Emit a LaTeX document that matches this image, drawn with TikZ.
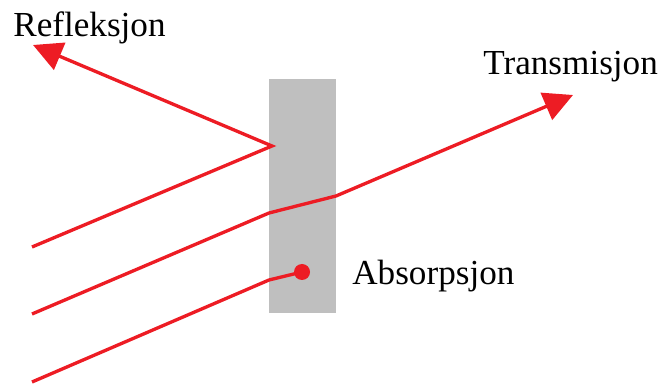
\documentclass[tikz,border=0pt]{standalone}
\usepackage{fontspec}
\setmainfont{Liberation Serif}
\usetikzlibrary{arrows.meta}
\definecolor{beam}{RGB}{237,28,36}
\definecolor{slab}{RGB}{191,191,191}
\tikzset{
  ray/.style={draw=beam, line width=1.9pt, line join=miter},
  rayarrow/.style={ray, -{Triangle[length=0.58cm, width=0.58cm]}},
  lbl/.style={font=\fontsize{20}{24}\selectfont, inner sep=0pt, anchor=base west},
}

\begin{document}
\begin{tikzpicture}
  \useasboundingbox (0,0) rectangle (13.26,7.74);
  \fill[slab] (5.38,1.48) rectangle (6.72,6.16);

  \coordinate (rin) at (0.64, 2.80);
  \coordinate (rhit) at (5.44, 4.82);
  \coordinate (rout) at (0.66, 6.84);
  \coordinate (tin) at (0.64, 1.46);
  \coordinate (ta) at (5.38, 3.48);
  \coordinate (tb) at (6.72, 3.82);
  \coordinate (tout) at (11.46, 5.84);
  \coordinate (ain) at (0.64, 0.10);
  \coordinate (aa) at (5.38, 2.14);
  \node[circle, fill=beam, inner sep=0pt, minimum size=0.32cm] (dot) at (6.04, 2.30) {};

  \node[lbl] (refl) at (0.26, 7.00) {Refleksjon};
  \node[lbl] (trans) at (9.66, 6.24) {Transmisjon};
  \node[lbl] (abs) at (7.04, 2.04) {Absorpsjon};

  \draw[rayarrow] (rin) -- (rhit) -- (rout);
  \draw[rayarrow] (tin) -- (ta) -- (tb) -- (tout);
  \draw[ray] (ain) -- (aa) -- (dot.center);
\end{tikzpicture}
\end{document}
